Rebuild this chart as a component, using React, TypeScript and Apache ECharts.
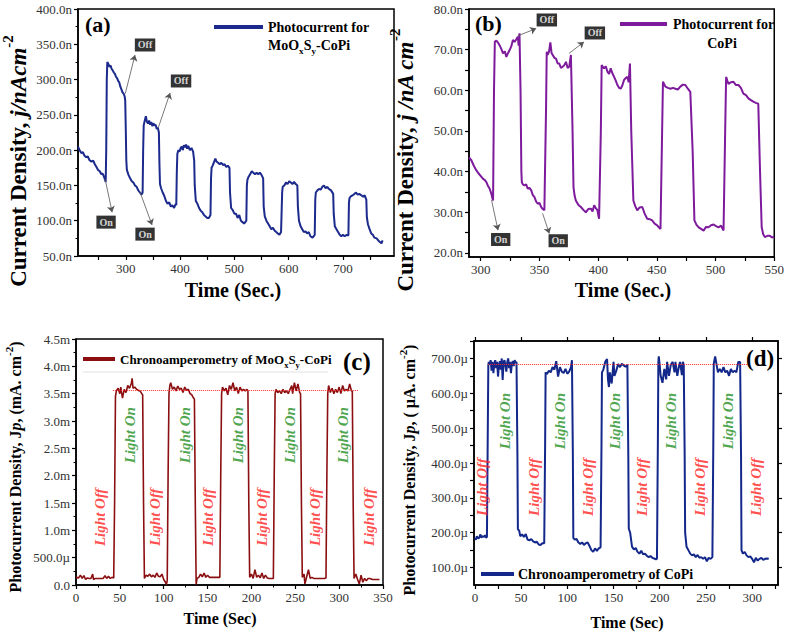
import React, { useEffect, useRef } from 'react';
import * as echarts from 'echarts';

const FONT = "'Liberation Serif', 'Times New Roman', serif";

// ---------- Panel (a): Photocurrent for MoOxSy-CoPi ----------
const photoMoOxSy: number[][] = [
  [212,205],[215,200],[218,196],[221,197],[224,192],[227,190],[230,191],[233,186],[236,184],[240,185],[243,180],[246,176],[249,172],[252,170],[255,166],[257,167],[259,164],[261,160],[263,155],
  [264,200],[265,300],[266,325],[268,322],[270,318],[272,320],[274,315],[276,313],[278,310],[280,308],[282,304],[284,302],[286,298],[288,296],[290,290],[292,286],[294,282],[296,280],[298,276],[299,270],
  [300,230],[301,185],[302,172],[305,165],[308,160],[311,156],[314,154],[317,150],[320,148],[323,143],[326,140],[329,137],[331,140],
  [332,200],[333,235],[335,242],[337,248],[339,240],[341,238],[343,242],[345,236],[347,240],[349,234],[351,238],[353,235],[355,236],[357,230],[359,232],[361,225],
  [362,180],[363,152],[365,146],[368,140],[371,135],[374,128],[377,124],[380,126],[383,120],[386,122],[389,118],[392,124],[393,122],
  [394,170],[395,195],[397,200],[399,198],[401,203],[403,205],[405,200],[407,207],[409,204],[411,208],[413,202],[415,206],[418,200],[421,203],[424,198],[426,185],
  [427,150],[429,128],[432,124],[435,118],[438,114],[441,112],[444,108],[447,106],[450,104],[453,104],[456,108],
  [457,160],[458,175],[460,178],[462,182],[465,188],[467,184],[470,182],[473,180],[476,182],[479,179],[482,180],[485,176],[488,178],[491,175],
  [492,140],[494,118],[497,115],[500,110],[503,110],[506,104],[509,108],[512,100],[515,98],[518,96],[522,100],
  [523,150],[524,158],[526,162],[529,166],[532,170],[535,168],[538,166],[541,168],[544,166],[547,168],[550,165],[553,160],
  [554,120],[556,106],[559,100],[562,96],[565,92],[568,88],[571,90],[574,86],[577,84],[580,82],[583,80],[586,84],
  [588,140],[589,148],[592,150],[595,154],[598,152],[601,156],[604,154],[607,152],[610,155],[613,152],[616,150],
  [617,120],[619,100],[622,92],[625,88],[628,84],[631,85],[634,82],[637,84],[640,78],[644,76],[648,80],
  [649,130],[650,140],[653,143],[656,145],[659,144],[662,148],[665,150],[668,146],[671,148],[674,145],[678,143],[682,138],
  [683,110],[685,92],[688,88],[691,84],[694,80],[697,78],[700,80],[703,78],[707,80],[710,79],
  [711,125],[712,132],[715,135],[718,136],[721,138],[724,140],[727,137],[730,138],[734,136],[737,134],[740,136],[743,130],
  [744,105],[746,95],[749,88],[752,82],[755,80],[758,76],[762,75],[765,72],[768,70],[771,68],[773,72],
];
const aXLabels = [300, 400, 500, 600, 700];
const aXTicks = [250, 300, 350, 400, 450, 500, 550, 600, 650, 700, 750];
const aBoxes: [number, number, string][] = [[335.5, 349, 'Off'], [401.8, 298, 'Off'], [263.7, 98, 'On'], [335.5, 81, 'On']];
const aArrows: number[][][] = [
  [[299, 280], [317, 334.8]],
  [[360, 232], [381.6, 281]],
  [[262, 159], [274.8, 112]],
  [[326, 141], [348.4, 94]],
];

// ---------- Panel (b): Photocurrent for CoPi ----------
const photoCoPi: number[][] = [
  [290,43.5],[292,42.8],[294,41.5],[296.3,40.3],[298,39.6],[300.6,38.7],[302,38.2],[303.5,37.9],[304.8,37.4],[306,36.6],[307.6,35.8],[309,34.6],[310,33.4],[310.5,32.9],
  [311.3,60],[312,72],[313.3,72.2],[314.5,71.8],[316,71.1],[317.5,70.2],[319,69.1],[320.5,69.6],[321.8,68.2],[323,69.0],[324.6,69.9],[326,70.8],[327.4,72.4],[328.8,71.9],[330.2,72.5],[331.6,73.2],[332.3,71.0],[333,74.0],
  [333.9,60],[334.6,40],[335,37.4],[336,36.8],[337.3,36.6],[338.7,36.9],[340,35.8],[341.5,36.0],[343,35.4],[344.4,34.2],[345.8,33.7],[347.2,32.6],[348.6,32.1],[350,32.3],[351.4,31.3],[352.8,30.8],[354.2,30.5],
  [355.6,55],[356.2,69.5],[357,68.7],[358.2,69.6],[359.3,71.8],[360.3,69.2],[361.3,68.7],[362.7,68.0],[364.1,67.8],[365.5,66.6],[366.9,66.6],[368.3,65.5],[369.8,65.8],[371.2,66.2],[372.6,67.0],[374,65.5],[375.4,65.8],[376.8,68.7],
  [378.2,50],[379,36.2],[380,34.0],[381,32.9],[383.2,31.8],[385.3,31.3],[387.4,30.6],[389.5,30.0],[391.6,30.8],[393.8,30.9],[395.2,30.2],[396.6,31.7],[398,31.0],[399.4,30.5],[400.3,29.0],[400.8,28.4],
  [402.3,50],[403,66.2],[404,65.8],[405,65.4],[406.5,65.9],[407.9,64.6],[409.3,64.0],[410.7,65.4],[412.1,64.2],[413.6,63.3],[415,62.4],[416.4,61.3],[417.8,60.6],[419.2,60.4],[420.6,61.2],[422,62.5],[423.4,63.0],[424.9,63.3],[426,62.0],[427.1,66.6],
  [428.2,50],[430,32.9],[431.6,31.5],[433.3,30.5],[435.4,31.2],[437.6,31.3],[439.7,29.6],[441.8,28.4],[443.9,28.3],[446,28.0],[448.1,27.2],[450.3,26.8],[451.7,26.3],[453.1,25.9],
  [454.5,50],[455.2,62.1],[457.3,60.9],[459.4,60.6],[461.6,60.4],[463.7,60.6],[465.8,60.4],[467.9,60.2],[470,60.9],[472.2,61.4],[474.3,61.3],[476.4,60.4],[478.5,59.6],
  [480.5,45],[482,28.0],[483.8,26.9],[485.6,26.3],[487.7,25.9],[489.8,25.5],[491.9,26.4],[494,26.3],[496.2,26.8],[498.3,27.0],[500.4,26.6],[502.5,26.3],[504.7,26.7],[506.8,25.5],
  [508.2,50],[509,63.3],[510,62.4],[511,61.6],[513.2,62.0],[515.3,62.1],[517.4,61.3],[519.5,61.3],[521.6,60.6],[523.7,59.2],[525.9,58.8],[528,58.0],[530.1,57.6],[532.2,57.2],[534.3,56.9],[536.4,56.7],
  [537.9,40],[539.3,26.3],[540.6,24.6],[542,23.9],[544.2,24.2],[546.3,24.2],[548.2,23.8],[550,24.0],
];
const bXLabels = [300, 350, 400, 450, 500, 550];
const bXTicks = [300, 325, 350, 375, 400, 425, 450, 475, 500, 525, 550];
const bYLabels = [20, 30, 40, 50, 60, 70, 80];
const bYTicks = [20, 25, 30, 35, 40, 45, 50, 55, 60, 65, 70, 75, 80];
const bBoxes: [number, number, string][] = [[356.3, 77.3, 'Off'], [397.2, 74.1, 'Off'], [317, 23.3, 'On'], [366, 23, 'On']];
const bArrows: number[][][] = [
  [[331.6, 73.4], [347.2, 75.2]],
  [[375.3, 69.1], [387.9, 71.9]],
  [[309.2, 33], [314.7, 25.6]],
  [[352.7, 29.7], [358.4, 24.8]],
];

// ---------- Panel (c): Chronoamperometry of MoOxSy-CoPi (mA) ----------
const chronoMoOxSy: number[][] = [
  [0,0.14],[3,0.13],[5,0.18],[7,0.12],[9,0.17],[11,0.1],[13,0.13],[15,0.12],[17,0.12],[19,0.2],[20,0.1],[22,0.12],[25,0.12],[28,0.12],[31,0.12],[33,0.17],[35,0.12],[37,0.16],[39,0.12],[41,0.14],[43,0.13],
  [44,1.5],[45,3.45],[46,3.55],[48,3.6],[50,3.5],[51,3.62],[53,3.42],[55,3.58],[57,3.52],[59,3.65],[61,3.6],[63,3.68],[64,3.78],[65,3.6],[67,3.62],[69,3.58],[71,3.56],[73,3.55],[75,3.5],[76,3.48],
  [77,1.5],[78,0.12],[80,0.18],[82,0.16],[84,0.2],[86,0.15],[88,0.18],[90,0.14],[92,0.22],[94,0.16],[96,0.15],[98,0.2],[100,0.1],[102,0.05],[103,0.01],[104,0.08],
  [105,2],[106,3.5],[107,3.65],[108,3.7],[110,3.58],[112,3.62],[114,3.55],[116,3.64],[118,3.58],[120,3.6],[122,3.52],[124,3.62],[126,3.56],[128,3.58],[130,3.5],[132,3.48],[134,3.42],[135,3.4],
  [136,1.5],[137,0.01],[138,0.12],[140,0.14],[142,0.2],[144,0.15],[146,0.22],[148,0.14],[150,0.18],[152,0.14],[155,0.14],[158,0.14],[161,0.14],[164,0.14],
  [165,2],[166,3.5],[167,3.62],[169,3.55],[171,3.6],[173,3.48],[175,3.65],[177,3.58],[179,3.7],[181,3.55],[183,3.62],[185,3.5],[187,3.62],[189,3.55],[191,3.58],[193,3.55],[195,3.58],[196,3.55],
  [197,1.5],[198,0.14],[200,0.2],[202,0.12],[204,0.28],[206,0.14],[208,0.18],[210,0.13],[212,0.22],[214,0.12],[216,0.18],[218,0.13],[220,0.12],[222,0.12],[224,0.12],[225,0.12],
  [226,2],[227,3.5],[228,3.58],[230,3.52],[232,3.55],[234,3.5],[236,3.58],[238,3.52],[240,3.55],[242,3.5],[244,3.58],[246,3.65],[247,3.5],[249,3.7],[251,3.55],[253,3.68],[255,3.52],[256,3.5],
  [257,1.5],[258,0.14],[260,0.2],[261,0.02],[263,0.15],[265,0.28],[267,0.12],[269,0.14],[271,0.12],[274,0.12],[277,0.12],[280,0.12],[283,0.12],[285,0.13],
  [286,2],[287,3.5],[288,3.65],[290,3.52],[292,3.6],[294,3.5],[296,3.58],[298,3.52],[300,3.62],[302,3.5],[304,3.65],[306,3.55],[308,3.58],[310,3.55],[312,3.68],[314,3.55],[315,3.55],
  [316,1.5],[317,0.12],[319,0.2],[321,0.1],[323,0.02],[325,0.18],[327,0.05],[329,0.12],[331,0.08],[333,0.12],[335,0.12],[338,0.1],[341,0.1],[344,0.1],[346,0.1],
];
const cRefLevel = 3.57;
const cRefRange = [42, 321.5];
const cLightOff: number[][] = [[27.4,1.24],[90,1.24],[151,1.24],[211.5,1.24],[272.5,1.24],[333.5,1.24]];
const cLightOn: number[][] = [[62,2.74],[124,2.74],[184.5,2.74],[243.5,2.74],[304,2.74]];

// ---------- Panel (d): Chronoamperometry of CoPi (µA) ----------
const chronoCoPi: number[][] = [
  [0,185],[1,180],[2,190],[3,186],[4,183],[5,188],[6,195],[7,186],[8,190],[10,188],[11,193],[12,186],[13,188],
  [14,520],[14.5,680],[15,690],[16,682],[17,695],[18,665],[19,690],[20,658],[21,685],[22,695],[23,672],[24,690],[25,648],[26,680],[27,692],[28,668],[29,700],[30,638],[31,690],[32,695],[33,678],[34,662],[35,690],[36,700],[37,672],[38,690],[39,658],[40,685],[41,692],[42,678],[43,695],[44,688],[45,690],
  [46,420],[46.5,210],[48,205],[49,190],[51,195],[53,188],[55,196],[57,180],[59,178],[61,182],[63,175],[65,172],[67,174],[69,166],[71,165],[73,170],[75,170],
  [76,460],[76.5,660],[78,655],[80,665],[82,660],[84,675],[86,668],[88,692],[90,648],[92,675],[94,662],[96,658],[98,670],[100,656],[102,662],[104,675],[105,695],
  [106,420],[106.5,185],[108,180],[110,182],[112,172],[114,168],[116,172],[118,165],[120,170],[122,172],[124,162],[126,150],[128,145],[130,155],[132,148],[134,155],[136,158],
  [137,460],[137.5,660],[139,668],[141,690],[143,698],[144,640],[145,618],[146,660],[148,628],[150,690],[151,650],[153,665],[155,684],[157,675],[159,685],[161,680],[163,676],[165,682],
  [166,420],[166.5,212],[168,200],[170,160],[172,152],[174,156],[176,145],[178,140],[180,148],[182,138],[184,140],[186,134],[188,130],[190,133],[192,128],[194,126],[196,124],[197,125],
  [198,460],[198.5,690],[199,706],[200,680],[201,650],[203,630],[205,670],[207,640],[208,690],[210,650],[212,682],[214,690],[216,660],[217,690],[219,650],[221,680],[222,690],[224,652],[225,690],[226,682],
  [227,420],[227.5,200],[229,160],[231,150],[233,140],[235,135],[237,138],[239,130],[241,136],[243,128],[245,130],[247,125],[249,130],[251,118],[253,128],[255,125],[257,130],
  [258,460],[258.5,685],[259,692],[260,706],[261,690],[263,660],[265,670],[267,660],[269,675],[271,660],[273,665],[275,650],[277,670],[279,660],[281,665],[283,660],[285,690],[287,690],
  [288,420],[288.5,150],[290,140],[292,145],[294,135],[296,130],[298,132],[300,125],[302,115],[304,128],[306,120],[308,125],[310,128],[312,122],[314,125],[316,126],[318,125],
];
const dXLabels = [0, 50, 100, 150, 200, 250, 300];
const dXTicks = [0, 25, 50, 75, 100, 125, 150, 175, 200, 225, 250, 275, 300, 325];
const dYLabels = [100, 200, 300, 400, 500, 600, 700];
const dYTicks = [100, 150, 200, 250, 300, 350, 400, 450, 500, 550, 600, 650, 700, 750];
const dRefLevel = 683;
const dRefRange = [14, 294.5];
const dLightOff: number[][] = [[7.3,331],[63.4,331],[122.9,331],[180.3,331],[243.6,331],[303.7,331]];
const dLightOn: number[][] = [[32.5,520],[92,520],[151.6,520],[211.7,520],[274.4,520]];

const BLUE_A = '#1b2a8c';
const PURPLE = '#7e1a9c';
const DARKRED = '#8b0f10';
const BLUE_D = '#13288a';

const axisBase = (gridIndex: number, min: number, max: number, position: string) => ({
  type: 'value',
  gridIndex,
  min,
  max,
  position,
  axisLine: { show: true, onZero: false, lineStyle: { color: '#000', width: 1.5 } },
  axisTick: { show: true, inside: false, length: 4, lineStyle: { color: '#000', width: 1.2 } },
  minorTick: { show: false },
  axisLabel: { show: true, color: '#333', fontFamily: FONT, fontSize: 13, margin: 6 },
  splitLine: { show: false },
});

const withCustom = (ax: any, ticks: number[] | null, labels: number[] | null, fmt?: (v: number) => string) => {
  const a = { ...ax, axisTick: { ...ax.axisTick }, axisLabel: { ...ax.axisLabel } };
  if (ticks) a.axisTick.customValues = ticks;
  if (labels) a.axisLabel.customValues = labels;
  if (fmt) a.axisLabel.formatter = fmt;
  return a;
};

const withInterval = (ax: any, interval: number, fmt?: (v: number) => string) => ({
  ...ax,
  interval,
  minorTick: { show: true, splitNumber: 2, length: 2.5, lineStyle: { color: '#000', width: 1 } },
  axisLabel: { ...ax.axisLabel, ...(fmt ? { formatter: fmt } : {}) },
});

const nFmt = (v: number) => v.toFixed(1) + 'n';
const cFmt = (v: number) => (v === 0 ? '0.0' : v < 1 ? (v * 1000).toFixed(1) + 'µ' : v.toFixed(1) + 'm');
const uFmt = (v: number) => v.toFixed(1) + 'µ';

const boxSeries = (xi: number, boxes: [number, number, string][]) => ({
  type: 'scatter',
  xAxisIndex: xi,
  yAxisIndex: xi,
  symbolSize: 0,
  silent: true,
  z: 5,
  data: boxes.map((b) => ({ value: [b[0], b[1]], name: b[2] })),
  label: {
    show: true,
    position: 'inside',
    formatter: '{b}',
    color: '#fff',
    backgroundColor: '#000',
    padding: [2, 3, 1, 3],
    fontFamily: FONT,
    fontWeight: 'bold',
    fontSize: 10,
  },
});

const arrowLines = (arrows: number[][][]) => ({
  silent: true,
  symbol: ['none', 'arrow'],
  symbolSize: 6,
  label: { show: false },
  lineStyle: { color: '#555', width: 0.8, type: 'solid' },
  data: arrows.map((a) => [{ coord: a[0] }, { coord: a[1] }]),
});

const lightSeries = (xi: number, pts: number[][], text: string, color: string) => ({
  type: 'scatter',
  xAxisIndex: xi,
  yAxisIndex: xi,
  symbolSize: 0,
  silent: true,
  z: 5,
  data: pts,
  label: {
    show: true,
    position: 'inside',
    rotate: 90,
    formatter: text,
    color,
    fontFamily: FONT,
    fontWeight: 'bold',
    fontStyle: 'italic',
    fontSize: 15,
  },
});

const refLine = (level: number, range: number[]) => ({
  silent: true,
  symbol: ['none', 'none'],
  label: { show: false },
  lineStyle: { color: '#ff2a2a', width: 1, type: 'dotted' },
  data: [[{ coord: [range[0], level] }, { coord: [range[1], level] }]],
});

const txt = (x: number, y: number, text: string, size: number, extra: any = {}) => ({
  type: 'text',
  x,
  y,
  silent: true,
  z: 10,
  style: {
    text,
    fontFamily: FONT,
    fontWeight: 'bold',
    fontSize: size,
    fill: '#000',
    align: 'left',
    verticalAlign: 'middle',
    ...extra,
  },
});

const richTitle = (x: number, y: number, text: string, size: number, supSize: number, rotate: boolean) => ({
  type: 'text',
  x,
  y,
  rotation: rotate ? Math.PI / 2 : 0,
  silent: true,
  z: 10,
  style: {
    text,
    align: 'center',
    verticalAlign: 'middle',
    fontFamily: FONT,
    fontWeight: 'bold',
    fontSize: size,
    fill: '#000',
    rich: {
      b: { fontFamily: FONT, fontWeight: 'bold', fontSize: size, fill: '#000', lineHeight: size * 1.5 },
      i: { fontFamily: FONT, fontWeight: 'bold', fontStyle: 'italic', fontSize: size, fill: '#000', lineHeight: size * 1.5 },
      s: { fontFamily: FONT, fontWeight: 'bold', fontSize: supSize, fill: '#000', verticalAlign: 'top', lineHeight: supSize },
    },
  },
});

const legendRich = (size: number) => ({
  t: { fontFamily: FONT, fontWeight: 'bold', fontSize: size, fill: '#000', lineHeight: size + 6 },
  sub: { fontFamily: FONT, fontWeight: 'bold', fontSize: size * 0.65, fill: '#000', verticalAlign: 'bottom', lineHeight: size * 0.65 },
});

const richTxt = (x: number, y: number, text: string, size: number) => ({
  type: 'text',
  x,
  y,
  silent: true,
  z: 10,
  style: {
    text,
    fontFamily: FONT,
    fontWeight: 'bold',
    fontSize: size,
    fill: '#000',
    align: 'left',
    verticalAlign: 'middle',
    rich: legendRich(size),
  },
});

const legendLine = (x1: number, x2: number, y: number, color: string) => ({
  type: 'line',
  silent: true,
  z: 10,
  shape: { x1, y1: y, x2, y2: y },
  style: { stroke: color, lineWidth: 4 },
});

export default function App() {
  const ref = useRef<HTMLDivElement>(null);
  useEffect(() => {
    if (!ref.current) return;
    const chart = echarts.init(ref.current, undefined, { renderer: 'svg' });

    const gridBox = { show: true, borderColor: '#000', borderWidth: 1.5, backgroundColor: 'transparent', containLabel: false };

    const option: any = {
      animation: false,
      backgroundColor: '#fff',
      grid: [
        { ...gridBox, left: 78, top: 9, width: 316, height: 247 },
        { ...gridBox, left: 469, top: 9, width: 308, height: 248 },
        { ...gridBox, left: 76, top: 339, width: 307, height: 246 },
        { ...gridBox, left: 474, top: 341, width: 304, height: 244 },
      ],
      xAxis: [
        withCustom(axisBase(0, 212, 794, 'bottom'), aXTicks, aXLabels),
        withCustom(axisBase(1, 290, 550, 'bottom'), bXTicks, bXLabels),
        withInterval(axisBase(2, 0, 350, 'bottom'), 50),
        withCustom(axisBase(3, -1, 328, 'bottom'), dXTicks, dXLabels),
        withCustom({ ...axisBase(3, -1, 328, 'top'), axisLabel: { show: false } }, dXLabels, null),
      ],
      yAxis: [
        withInterval(axisBase(0, 50, 400, 'left'), 50, nFmt),
        withCustom(axisBase(1, 19, 80, 'left'), bYTicks, bYLabels, nFmt),
        withInterval(axisBase(2, 0, 4.5, 'left'), 0.5, cFmt),
        withCustom(axisBase(3, 50, 750, 'left'), dYTicks, dYLabels, uFmt),
        withCustom({ ...axisBase(3, 50, 750, 'right'), axisLabel: { show: false } }, dYLabels, null),
      ],
      series: [
        {
          type: 'line', xAxisIndex: 0, yAxisIndex: 0, data: photoMoOxSy, showSymbol: false, silent: true,
          lineStyle: { color: BLUE_A, width: 2 }, itemStyle: { color: BLUE_A },
          markLine: arrowLines(aArrows),
        },
        boxSeries(0, aBoxes),
        {
          type: 'line', xAxisIndex: 1, yAxisIndex: 1, data: photoCoPi, showSymbol: false, silent: true,
          lineStyle: { color: PURPLE, width: 2 }, itemStyle: { color: PURPLE },
          markLine: arrowLines(bArrows),
        },
        boxSeries(1, bBoxes),
        {
          type: 'line', xAxisIndex: 2, yAxisIndex: 2, data: chronoMoOxSy, showSymbol: false, silent: true,
          lineStyle: { color: DARKRED, width: 1.6 }, itemStyle: { color: DARKRED },
          markLine: refLine(cRefLevel, cRefRange),
        },
        lightSeries(2, cLightOff, 'Light Off', '#ff1f1f'),
        lightSeries(2, cLightOn, 'Light On', '#1f8f1f'),
        {
          type: 'line', xAxisIndex: 3, yAxisIndex: 3, data: chronoCoPi, showSymbol: false, silent: true,
          lineStyle: { color: BLUE_D, width: 2 }, itemStyle: { color: BLUE_D },
          markLine: refLine(dRefLevel, dRefRange),
        },
        lightSeries(3, dLightOff, 'Light Off', '#ff1f1f'),
        lightSeries(3, dLightOn, 'Light On', '#1f8f1f'),
      ],
      graphic: [
        // panel letters
        txt(85, 24, '(a)', 22),
        txt(475, 23, '(b)', 22),
        txt(343, 361, '(c)', 25),
        txt(746, 358, '(d)', 23),
        // legends
        legendLine(214, 263, 27, BLUE_A),
        txt(268, 27, 'Photocurrent for', 14),
        richTxt(268, 45, '{t|MoO}{sub|x}{t|S}{sub|y}{t|-CoPi}', 14),
        legendLine(620, 667, 24, PURPLE),
        txt(673, 24, 'Photocurrent for', 14),
        txt(722, 43, 'CoPi', 14, { align: 'center' }),
        legendLine(83, 115, 359, DARKRED),
        richTxt(120, 359, '{t|Chronoamperometry of MoO}{sub|x}{t|S}{sub|y}{t|-CoPi}', 13),
        {
          type: 'line', silent: true, z: 9,
          shape: { x1: 83, y1: 372, x2: 328, y2: 372 },
          style: { stroke: '#e2e2e2', lineWidth: 1 },
        },
        legendLine(481, 514, 574, BLUE_D),
        txt(518, 574, 'Chronoamperometry of CoPi', 14),
        // axis titles
        richTitle(18, 161, '{b|Current Density, }{i|j/nAcm}{s|-2}', 23, 15, true),
        richTitle(405, 160, '{b|Current Density, }{i|j /nA cm}{s|-2}', 23, 15, true),
        richTitle(15, 467, '{b|Photocurrent Density, J}{i|p}{b|, (mA. cm}{s|-2}{b|)}', 16, 11, true),
        richTitle(409, 470, '{b|Photocurrent Density, J}{i|p}{b|, ( µA. cm}{s|-2}{b|)}', 16, 11, true),
        txt(233, 290, 'Time (Sec.)', 20, { align: 'center' }),
        txt(623, 290, 'Time (Sec.)', 20, { align: 'center' }),
        txt(220, 618, 'Time (Sec)', 16, { align: 'center' }),
        txt(627, 622, 'Time (Sec)', 16, { align: 'center' }),
      ],
    };
    chart.setOption(option);
    return () => chart.dispose();
  }, []);
  return (
    <div
      ref={ref}
      style={{ position: 'absolute', left: 0, top: 0, width: 787, height: 632, background: '#fff' }}
    />
  );
}
